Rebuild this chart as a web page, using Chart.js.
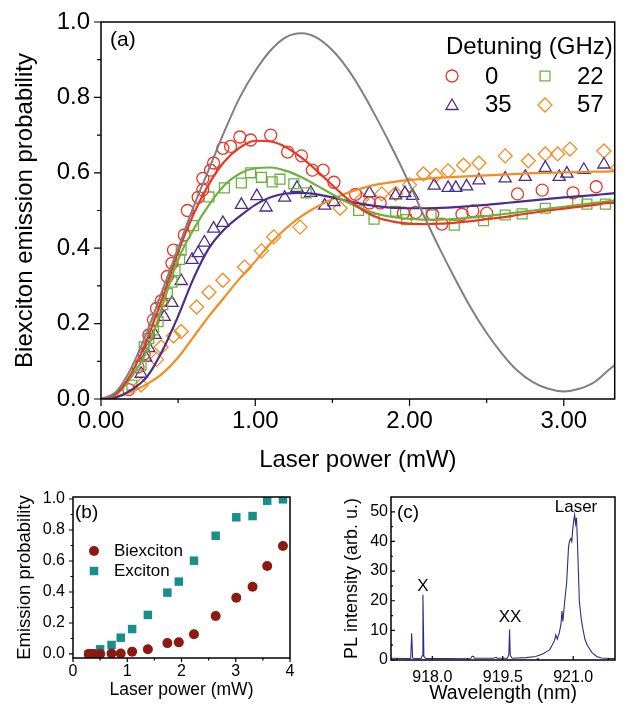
<!DOCTYPE html>
<html>
<head>
<meta charset="utf-8">
<script src="https://cdn.jsdelivr.net/npm/chart.js@4.4.1/dist/chart.umd.min.js"></script>
<style>
  body { margin: 0; background: #fff; }
  #wrap { position: relative; width: 623px; height: 705px; }
  canvas { position: absolute; }
</style>
</head>
<body>
<div id="wrap">
  <canvas id="chartA" width="623" height="480" style="left:0;top:0"></canvas>
  <canvas id="chartB" width="320" height="225" style="left:0;top:480px"></canvas>
  <canvas id="chartC" width="303" height="225" style="left:320px;top:480px"></canvas>
</div>
<script>
// ---- panel (a): fitted curves, sampled along laser power (mW)
var curveX = [0, 0.1, 0.2, 0.3, 0.4, 0.5, 0.6, 0.7, 0.8, 0.9, 1.0, 1.1, 1.2, 1.3, 1.4, 1.5, 1.6, 1.7,
  1.8, 1.9, 2.0, 2.1, 2.2, 2.3, 2.4, 2.5, 2.6, 2.7, 2.8, 2.9, 3.0, 3.1, 3.2, 3.3, 3.33];
var fitGray = [0, 0.02, 0.085, 0.18, 0.29, 0.40, 0.51, 0.61, 0.71, 0.80, 0.87, 0.925, 0.96, 0.97, 0.958,
  0.925, 0.875, 0.81, 0.735, 0.655, 0.57, 0.48, 0.395, 0.315, 0.24, 0.175, 0.12, 0.075, 0.045, 0.027,
  0.02, 0.027, 0.045, 0.08, 0.09];
var fit0 = [0, 0.015, 0.07, 0.16, 0.27, 0.39, 0.49, 0.57, 0.63, 0.667, 0.685, 0.683, 0.668, 0.64, 0.605,
  0.567, 0.53, 0.50, 0.48, 0.47, 0.465, 0.464, 0.465, 0.468, 0.472, 0.477, 0.482, 0.488, 0.494, 0.50,
  0.505, 0.51, 0.515, 0.52, 0.52];
var fit22 = [0, 0.012, 0.06, 0.13, 0.25, 0.37, 0.45, 0.515, 0.567, 0.598, 0.612, 0.614, 0.605, 0.588,
  0.566, 0.543, 0.521, 0.503, 0.49, 0.482, 0.478, 0.476, 0.476, 0.478, 0.481, 0.485, 0.49, 0.495, 0.50,
  0.505, 0.51, 0.515, 0.52, 0.525, 0.527];
var fit35 = [0, 0.005, 0.025, 0.06, 0.13, 0.22, 0.32, 0.40, 0.45, 0.485, 0.515, 0.535, 0.545, 0.547,
  0.543, 0.535, 0.525, 0.517, 0.511, 0.507, 0.506, 0.506, 0.507, 0.509, 0.512, 0.515, 0.519, 0.523,
  0.527, 0.531, 0.535, 0.538, 0.541, 0.545, 0.546];
var fit57 = [0, 0.005, 0.02, 0.04, 0.068, 0.11, 0.165, 0.22, 0.27, 0.32, 0.365, 0.413, 0.453, 0.485,
  0.51, 0.53, 0.547, 0.56, 0.57, 0.576, 0.581, 0.584, 0.587, 0.589, 0.591, 0.593, 0.595, 0.597, 0.599,
  0.6, 0.601, 0.602, 0.603, 0.604, 0.605];

// ---- panel (a): measured points, one pair of arrays per detuning
var det0X = [0.18, 0.24, 0.28, 0.31, 0.34, 0.36, 0.39, 0.43, 0.46, 0.47, 0.54, 0.56, 0.63, 0.66, 0.66, 0.71,
  0.73, 0.79, 0.84, 0.90, 0.97, 1.10, 1.21, 1.30, 1.37, 1.44, 1.51, 1.65, 1.74, 1.81, 1.96, 2.04, 2.15,
  2.21, 2.34, 2.41, 2.50, 2.70, 2.86, 3.06, 3.21];
var det0Y = [0.025, 0.085, 0.12, 0.17, 0.21, 0.24, 0.26, 0.325, 0.36, 0.395, 0.435, 0.50, 0.535, 0.555,
  0.585, 0.607, 0.626, 0.665, 0.67, 0.695, 0.687, 0.70, 0.655, 0.645, 0.607, 0.607, 0.575, 0.543, 0.52,
  0.52, 0.493, 0.495, 0.49, 0.464, 0.49, 0.499, 0.493, 0.544, 0.554, 0.547, 0.563];
var det22X = [0.20, 0.26, 0.28, 0.31, 0.34, 0.37, 0.40, 0.43, 0.46, 0.48, 0.51, 0.52, 0.60, 0.70, 0.80,
  0.91, 0.97, 1.04, 1.11, 1.16, 1.25, 1.33, 1.67, 1.77, 1.91, 1.98, 2.14, 2.29, 2.48, 2.62, 2.73, 2.88,
  3.09, 3.15, 3.27];
var det22Y = [0.037, 0.09, 0.138, 0.16, 0.183, 0.205, 0.25, 0.28, 0.31, 0.34, 0.37, 0.395, 0.46, 0.536,
  0.56, 0.573, 0.60, 0.588, 0.576, 0.583, 0.571, 0.547, 0.50, 0.477, 0.498, 0.476, 0.488, 0.461, 0.473,
  0.488, 0.491, 0.506, 0.523, 0.517, 0.517];
var det35X = [0.26, 0.29, 0.31, 0.35, 0.41, 0.46, 0.52, 0.59, 0.63, 0.67, 0.73, 0.79, 0.91, 1.01, 1.07,
  1.19, 1.27, 1.36, 1.45, 1.51, 1.74, 1.91, 1.97, 2.02, 2.16, 2.25, 2.30, 2.37, 2.45, 2.62, 2.75, 2.88,
  2.97, 3.02, 3.13, 3.26];
var det35Y = [0.067, 0.11, 0.135, 0.17, 0.218, 0.255, 0.313, 0.369, 0.387, 0.415, 0.452, 0.467, 0.515,
  0.538, 0.508, 0.534, 0.56, 0.547, 0.513, 0.522, 0.546, 0.54, 0.546, 0.539, 0.566, 0.56, 0.56, 0.564,
  0.58, 0.585, 0.589, 0.613, 0.589, 0.598, 0.608, 0.622];
var det57X = [0.26, 0.36, 0.39, 0.47, 0.52, 0.62, 0.70, 0.79, 0.93, 1.04, 1.12, 1.29, 1.55, 1.69, 1.82,
  1.91, 2.00, 2.09, 2.17, 2.25, 2.35, 2.45, 2.62, 2.77, 2.88, 2.96, 3.04, 3.26, 3.35];
var det57Y = [0.037, 0.105, 0.138, 0.167, 0.179, 0.244, 0.283, 0.315, 0.35, 0.393, 0.43, 0.456, 0.506,
  0.53, 0.544, 0.545, 0.568, 0.597, 0.593, 0.605, 0.62, 0.626, 0.645, 0.632, 0.65, 0.65, 0.663, 0.658,
  0.613];

var aXTicks = [0, 1, 2, 3];
var aYTicks = [0, 0.2, 0.4, 0.6, 0.8, 1.0];

// ---- panel (b)
var bPower = [0.29, 0.37, 0.50, 0.71, 0.88, 1.09, 1.38, 1.74, 1.95, 2.23, 2.63, 3.01, 3.31, 3.58, 3.87];
var bBiexciton = [0.0, 0.0, 0.0, 0.003, 0.003, 0.015, 0.03, 0.07, 0.075, 0.127, 0.245, 0.363, 0.434,
  0.568, 0.697];
var bExciton = [0.0, 0.005, 0.03, 0.058, 0.105, 0.161, 0.252, 0.396, 0.467, 0.602, 0.763, 0.882, 0.89,
  0.989, 0.998];
var bXTicks = [0, 1, 2, 3, 4];
var bYTicks = [0, 0.2, 0.4, 0.6, 0.8, 1.0];

// ---- panel (c): PL spectrum
var wavelength = [917.12, 917.5, 917.54, 917.56, 917.58, 917.62, 917.76, 917.79, 917.80, 917.82, 917.86,
  918.3, 918.82, 918.85, 918.88, 918.9, 919.3, 919.36, 919.38, 919.6, 919.63, 919.645, 919.66, 919.7,
  920.0, 920.2, 920.35, 920.45, 920.5, 920.55, 920.6, 920.63, 920.66, 920.7, 920.74, 920.76, 920.78,
  920.82, 920.86, 920.9, 920.92, 920.95, 920.97, 920.99, 921.01, 921.03, 921.05, 921.07, 921.09,
  921.11, 921.13, 921.15, 921.17, 921.2, 921.25, 921.3, 921.4, 921.5, 921.6, 921.8, 921.89];
var plIntensity = [0.6, 0.5, 0.6, 9.0, 0.7, 0.5, 0.5, 1.5, 22, 1.2, 0.5,
  0.5, 0.6, 1.3, 1.1, 0.6, 0.6, 0.9, 0.6, 0.6, 2, 10.3, 1.5, 0.6,
  0.8, 1.2, 2.0, 3.0, 3.5, 5, 6.5, 8.5, 7, 9, 12, 16.5, 13,
  20, 26, 38, 40, 41, 40, 44, 47, 49, 46, 48, 40,
  30, 20, 17, 14, 11, 7, 5, 2.5, 1.2, 0.7, 0.5, 0.5];
var cXTicks = [918.0, 919.5, 921.0];
var cYTicks = [0, 10, 20, 30, 40, 50];

var FONT = 'Arial, "Liberation Sans", sans-serif';
Chart.defaults.font.family = FONT;
Chart.defaults.color = '#000';

var RED = '#ee3524', GREEN = '#6cb33e', PURPLE = '#4b2d8e', ORANGE = '#f68b1f', GRAY = '#808080';

function pairs(xs, ys) {
  return xs.map(function (x, i) { return {x: x, y: ys[i]}; });
}

function curve(ys, color, width) {
  return {data: pairs(curveX, ys), showLine: true, pointRadius: 0, borderColor: color,
    borderWidth: width, cubicInterpolationMode: 'monotone', fill: false};
}

function marks(xs, ys, color, style, r, filled) {
  return {data: pairs(xs, ys), showLine: false, pointStyle: style, pointRadius: r,
    pointBorderColor: color, pointBackgroundColor: filled ? color : 'rgba(0,0,0,0)',
    pointBorderWidth: filled ? 0 : 1.3, borderColor: color, backgroundColor: color};
}

function drawMarker(ctx, m) {
  var r = m.r, x = m.x, y = m.y;
  ctx.beginPath();
  if (m.shape === 'circle') {
    ctx.arc(x, y, r, 0, Math.PI * 2);
  } else if (m.shape === 'rect') {
    var s = r * Math.SQRT1_2;
    ctx.rect(x - s, y - s, 2 * s, 2 * s);
  } else if (m.shape === 'triangle') {
    var a = 2 * Math.PI / 3;
    ctx.moveTo(x, y - r);
    ctx.lineTo(x + r * Math.sin(a), y - r * Math.cos(a));
    ctx.lineTo(x - r * Math.sin(a), y - r * Math.cos(a));
    ctx.closePath();
  } else {
    ctx.moveTo(x - r, y); ctx.lineTo(x, y - r); ctx.lineTo(x + r, y); ctx.lineTo(x, y + r);
    ctx.closePath();
  }
  if (m.filled) { ctx.fillStyle = m.color; ctx.fill(); }
  else { ctx.strokeStyle = m.color; ctx.lineWidth = 1.3; ctx.stroke(); }
}

// frame, tick marks, panel letters and hand placed legends
function decor(cfg) {
  return {
    id: 'decor',
    afterDraw: function (chart) {
      var ctx = chart.ctx, a = chart.chartArea;
      var sx = chart.scales.x, sy = chart.scales.y;
      var d = cfg.inward ? -1 : 1;
      ctx.save();
      ctx.strokeStyle = '#000';
      ctx.lineWidth = 1.2;
      ctx.beginPath();
      function xt(vals, len) {
        vals.forEach(function (v) {
          var p = sx.getPixelForValue(v);
          ctx.moveTo(p, a.bottom); ctx.lineTo(p, a.bottom + d * len);
        });
      }
      function yt(vals, len) {
        vals.forEach(function (v) {
          var p = sy.getPixelForValue(v);
          ctx.moveTo(a.left, p); ctx.lineTo(a.left - d * len, p);
        });
      }
      xt(cfg.xMajor, cfg.major); xt(cfg.xMinor, cfg.minor);
      yt(cfg.yMajor, cfg.major); yt(cfg.yMinor, cfg.minor);
      ctx.stroke();
      ctx.lineWidth = 1.5;
      ctx.strokeRect(a.left, a.top, a.right - a.left, a.bottom - a.top);
      ctx.fillStyle = '#000';
      ctx.textBaseline = 'middle';
      (cfg.texts || []).forEach(function (t) {
        ctx.font = t.size + 'px ' + FONT;
        ctx.textAlign = t.align || 'left';
        ctx.fillText(t.text, t.x, t.y);
      });
      (cfg.markers || []).forEach(function (m) { drawMarker(ctx, m); });
      ctx.restore();
    }
  };
}

function xScale(min, max, ticks, fmt, h, fontSize, pad, title, titleSize, titlePad) {
  return {
    type: 'linear', min: min, max: max,
    grid: {display: false, drawTicks: false}, border: {display: false},
    afterBuildTicks: function (s) { s.ticks = ticks.map(function (v) { return {value: v}; }); },
    afterFit: function (s) { s.height = h; s.paddingLeft = 0; s.paddingRight = 0; },
    ticks: {autoSkip: false, maxRotation: 0, padding: pad, font: {size: fontSize},
      callback: function (v) { return fmt(v); }},
    title: {display: true, text: title, font: {size: titleSize}, padding: {top: 0, bottom: titlePad}}
  };
}

function yScale(min, max, ticks, fmt, w, fontSize, pad, title, titleSize, titlePad) {
  return {
    type: 'linear', min: min, max: max,
    grid: {display: false, drawTicks: false}, border: {display: false},
    afterBuildTicks: function (s) { s.ticks = ticks.map(function (v) { return {value: v}; }); },
    afterFit: function (s) { s.width = w; s.paddingTop = 0; s.paddingBottom = 0; },
    ticks: {autoSkip: false, padding: pad, font: {size: fontSize},
      callback: function (v) { return fmt(v); }},
    title: {display: true, text: title, font: {size: titleSize}, padding: {top: titlePad, bottom: 0}}
  };
}

function baseOptions(padding, scales) {
  return {
    responsive: false, animation: false, devicePixelRatio: 1,
    layout: {padding: padding},
    plugins: {legend: {display: false}, tooltip: {enabled: false}},
    scales: scales
  };
}

function f1(v) { return v.toFixed(1); }
function f2(v) { return v.toFixed(2); }
function f0(v) { return v.toFixed(0); }

// ---------------- panel (a)
var orangeMarks = marks(det57X, det57Y, ORANGE, 'rectRot', 7, false);
orangeMarks.clip = 0;
new Chart(document.getElementById('chartA'), {
  type: 'scatter',
  data: {datasets: [
    curve(fitGray, GRAY, 2),
    curve(fit0, RED, 2.2),
    curve(fit22, GREEN, 2.2),
    curve(fit35, PURPLE, 2.2),
    curve(fit57, ORANGE, 2.2),
    marks(det0X, det0Y, RED, 'circle', 6, false),
    marks(det22X, det22Y, GREEN, 'rect', 7, false),
    marks(det35X, det35Y, PURPLE, 'triangle', 7, false),
    orangeMarks
  ]},
  options: baseOptions({left: 0, top: 22, right: 8, bottom: 0}, {
    x: xScale(0, 3.33, aXTicks, f2, 81, 24, 8, 'Laser power (mW)', 24, 5),
    y: yScale(0, 1, aYTicks, f1, 101, 24, 11, 'Biexciton emission probability', 24, 11)
  }),
  plugins: [decor({
    major: 7, minor: 4,
    xMajor: aXTicks, xMinor: [0.5, 1.5, 2.5],
    yMajor: aYTicks, yMinor: [0.1, 0.3, 0.5, 0.7, 0.9],
    texts: [
      {text: '(a)', x: 110, y: 40, size: 21},
      {text: 'Detuning (GHz)', x: 446, y: 47, size: 24},
      {text: '0', x: 485, y: 77, size: 24},
      {text: '22', x: 577, y: 77, size: 24},
      {text: '35', x: 485, y: 105, size: 24},
      {text: '57', x: 577, y: 105, size: 24}
    ],
    markers: [
      {shape: 'circle', x: 452, y: 76, r: 6, color: RED},
      {shape: 'rect', x: 545, y: 76, r: 7, color: GREEN},
      {shape: 'triangle', x: 452, y: 106, r: 7, color: PURPLE},
      {shape: 'rectRot', x: 545, y: 105, r: 7, color: ORANGE}
    ]
  })]
});

// ---------------- panel (b)
var DARKRED = '#8b1a10', TEAL = '#17908b';
new Chart(document.getElementById('chartB'), {
  type: 'scatter',
  data: {datasets: [
    marks(bPower, bBiexciton, DARKRED, 'circle', 5, true),
    marks(bPower, bExciton, TEAL, 'rect', 6, true)
  ]},
  options: baseOptions({left: 0, top: 17, right: 30, bottom: 0}, {
    x: xScale(0, 4, bXTicks, f0, 47, 16, 3.5, 'Laser power (mW)', 17.5, 4),
    y: yScale(-0.026, 1.013, bYTicks, f1, 73, 16, 8, 'Emission probability', 18.5, 14)
  }),
  plugins: [decor({
    major: 4, minor: 2.5,
    xMajor: bXTicks, xMinor: [0.5, 1.5, 2.5, 3.5],
    yMajor: bYTicks, yMinor: [0.1, 0.3, 0.5, 0.7, 0.9],
    texts: [
      {text: '(b)', x: 75, y: 33, size: 19},
      {text: 'Biexciton', x: 114, y: 71, size: 17},
      {text: 'Exciton', x: 114, y: 91, size: 17}
    ],
    markers: [
      {shape: 'circle', x: 94, y: 71, r: 5, color: DARKRED, filled: true},
      {shape: 'rect', x: 94, y: 91, r: 6, color: TEAL, filled: true}
    ]
  })]
});

// ---------------- panel (c)
new Chart(document.getElementById('chartC'), {
  type: 'scatter',
  data: {datasets: [{
    data: pairs(wavelength, plIntensity), showLine: true, pointRadius: 0,
    borderColor: '#2f2a8c', borderWidth: 1.1, tension: 0
  }]},
  options: baseOptions({left: 0, top: 17, right: 8, bottom: 0}, {
    x: xScale(917.12, 921.89, cXTicks, f1, 45, 16, 8, 'Wavelength (nm)', 19.5, 0),
    y: yScale(0, 55, cYTicks, f0, 71, 16, 3, 'PL intensity (arb. u.)', 18, 21)
  }),
  plugins: [decor({
    inward: true, major: 4, minor: 2,
    xMajor: cXTicks, xMinor: [917.25, 918.75, 920.25, 921.75],
    yMajor: cYTicks, yMinor: [5, 15, 25, 35, 45],
    texts: [
      {text: '(c)', x: 77, y: 33, size: 19},
      {text: 'X', x: 103, y: 106, size: 17, align: 'center'},
      {text: 'XX', x: 190, y: 137, size: 17, align: 'center'},
      {text: 'Laser', x: 256, y: 27, size: 17, align: 'center'}
    ]
  })]
});
</script>
</body>
</html>
